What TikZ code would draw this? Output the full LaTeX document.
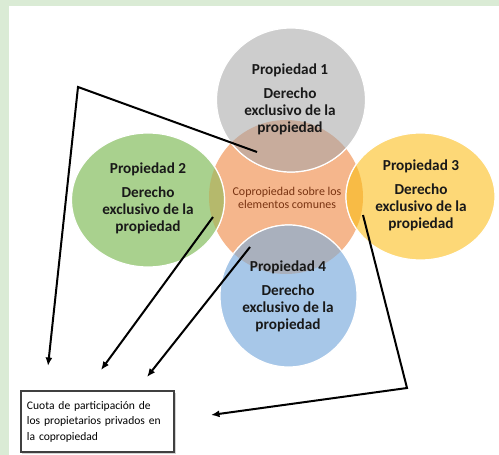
\documentclass[tikz,border=0pt]{standalone}
\usepackage{fontspec}
\setmainfont{Carlito}
\usetikzlibrary{shapes.geometric,arrows.meta,shadows}
\definecolor{bgg}{HTML}{DAEBD5}
\definecolor{c1}{HTML}{CDCDCD}
\definecolor{c1o}{HTML}{C8AC9C}
\definecolor{c2}{HTML}{A9D18E}
\definecolor{c2o}{HTML}{B5B96C}
\definecolor{c3}{HTML}{FDD877}
\definecolor{c3o}{HTML}{F8BB45}
\definecolor{c4}{HTML}{A7C7E8}
\definecolor{c4o}{HTML}{A9B0BD}
\definecolor{corange}{HTML}{F5B68C}
\definecolor{ctext}{HTML}{7A3412}
\begin{document}
\begin{tikzpicture}[x=1bp,y=-1bp,
  prop/.style={ellipse, inner sep=0pt, draw=white, line width=1.2bp},
  lbl/.style={align=center, font=\bfseries\fontsize{15.3}{17}\selectfont, text=black!90, inner sep=0pt},
  conn/.style={line width=2bp, -{Latex[length=8.5bp,width=7bp]}},
  outl/.style={white, line width=1.2bp},
]
\useasboundingbox (0,0) rectangle (499,455);
\fill[bgg] (0,0) rectangle (499,455);
\fill[white] (9,6) rectangle (499,455);

% central circle
\node[circle, fill=corange, minimum size=154bp, inner sep=0pt] (core) at (286,197) {};

% property circles
\node[prop, fill=c1, minimum width=149bp, minimum height=144bp] (p1) at (291,100) {};
\node[prop, fill=c2, minimum width=153bp, minimum height=134bp] (p2) at (148,200) {};
\node[prop, fill=c3, minimum width=149bp, minimum height=127bp] (p3) at (420.5,196.5) {};
\node[prop, fill=c4, minimum width=137bp, minimum height=142bp] (p4) at (288.5,296) {};

% overlaps
\begin{scope}
  \clip (286,197) circle[radius=77bp];
  \fill[c1o] (291,100) ellipse[x radius=74.5bp, y radius=72bp];
  \fill[c2o] (148,200) ellipse[x radius=76.5bp, y radius=67bp];
  \fill[c3o] (420.5,196.5) ellipse[x radius=74.5bp, y radius=63.5bp];
  \fill[c4o] (288.5,296) ellipse[x radius=68.5bp, y radius=71bp];
  \draw[outl] (291,100) ellipse[x radius=74.5bp, y radius=72bp];
  \draw[outl] (148,200) ellipse[x radius=76.5bp, y radius=67bp];
  \draw[outl] (420.5,196.5) ellipse[x radius=74.5bp, y radius=63.5bp];
  \draw[outl] (288.5,296) ellipse[x radius=68.5bp, y radius=71bp];
\end{scope}

% labels
\node[lbl] (t1) at (290,99) {Propiedad 1\\[7bp]Derecho\\exclusivo de la\\propiedad};
\node[lbl] (t2) at (148,198) {Propiedad 2\\[7bp]Derecho\\exclusivo de la\\propiedad};
\node[lbl] (t3) at (421,195) {Propiedad 3\\[7bp]Derecho\\exclusivo de la\\propiedad};
\node[lbl] (t4) at (288,296) {Propiedad 4\\[7bp]Derecho\\exclusivo de la\\propiedad};
\node[align=center, text=ctext, font=\fontsize{12}{12.5}\selectfont, inner sep=0pt] (ct) at (287,198) {Copropiedad sobre los\\elementos comunes};

% box
\node[draw=black!75, line width=1.3bp, fill=white, minimum width=153bp, minimum height=61bp,
      text width=141bp, align=left, inner xsep=6bp, font=\fontsize{11.6}{15.5}\selectfont,
      drop shadow={shadow xshift=1.5bp, shadow yshift=-1.5bp, opacity=0.35}]
      (box) at (97.5,421.5) {Cuota de participación de\\los propietarios privados en\\la copropiedad};

% connectors
\coordinate (s1) at (257,152); \coordinate (k1) at (78,87); \coordinate (e1) at (48,366);
\coordinate (s2) at (213,217); \coordinate (e2) at (101,370);
\coordinate (s3) at (250,247); \coordinate (e3) at (147,377);
\coordinate (s4) at (363,215); \coordinate (k4) at (407,388); \coordinate (e4) at (211,415);
\draw[conn] (s1) -- (k1) -- (e1);
\draw[conn] (s2) -- (e2);
\draw[conn] (s3) -- (e3);
\draw[conn] (s4) -- (k4) -- (e4);
\end{tikzpicture}
\end{document}
